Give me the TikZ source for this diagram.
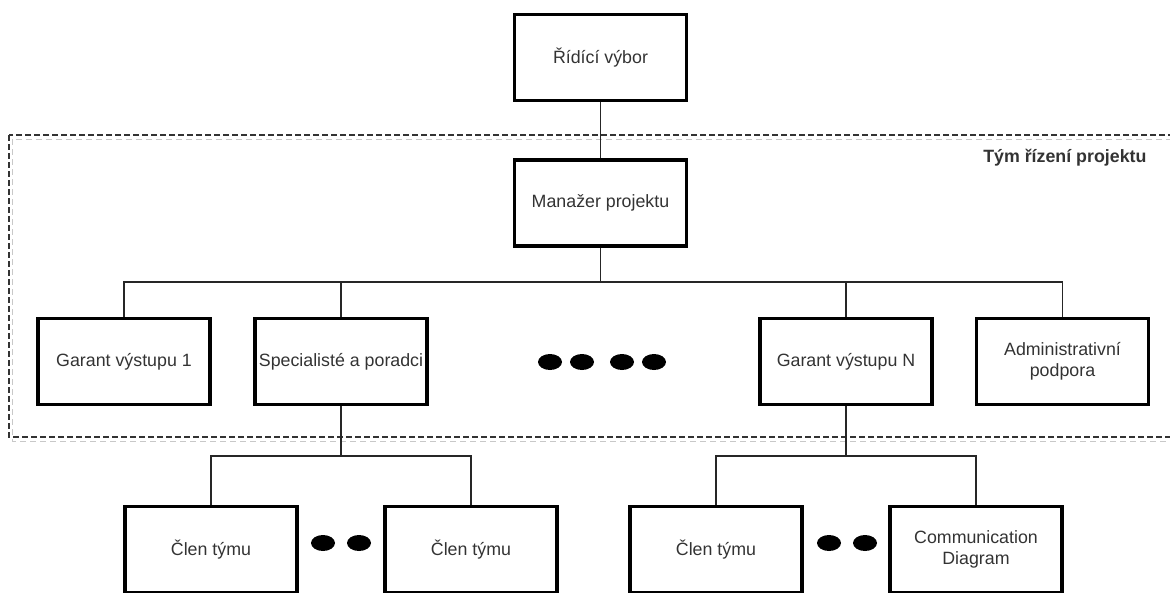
\documentclass[tikz,border=0pt]{standalone}
\usepackage{fontspec}
\setmainfont{Liberation Sans}
\usetikzlibrary{shapes.geometric}
\definecolor{txtgray}{HTML}{333333}
\definecolor{shadowgray}{HTML}{C8C8C8}
\begin{document}
\begin{tikzpicture}[x=1pt,y=-1pt]
		\tikzstyle{box}=[draw,line width=3.5pt,minimum width=172pt,minimum height=86pt,inner sep=2pt,align=center,text=txtgray,font=\fontsize{17.8}{20.5}\selectfont]
		\tikzstyle{edge} = [draw,line width=1.1pt,-,black!85]
		\tikzstyle{dot}=[ellipse,fill=black,minimum width=24pt,minimum height=16pt,inner sep=0pt]
		\useasboundingbox (0,0) rectangle (1170,592);
		
		% team frame
		\draw[shadowgray, line width=1pt, dash pattern=on 6pt off 4pt] (12,139) rectangle (1185,441);
		\draw[black!80, line width=1.2pt, dash pattern=on 6pt off 3pt] (9,135) rectangle (1185,437);
		\node[anchor=east, font=\bfseries\fontsize{17.8}{20}\selectfont, text=txtgray] (teamlabel) at (1150,158) {Tým řízení projektu};
		
		\node[box] (ridici) at (600.5,57.5) {Řídící výbor};
		\node[box] (manazer) at (600.5,203) {Manažer projektu};
		
		\node[box] (garant1) at (124,361.5) {Garant výstupu 1};
		\node[box] (special) at (341,361.5) {Specialisté a poradci};
		\node[box] (garantN) at (846,361.5) {Garant výstupu N};
		\node[box] (admin) at (1062.5,361.5) {Administrativní\\podpora};
		
		\node[box] (clen1) at (211,549.5) {Člen týmu};
		\node[box] (clen2) at (471,549.5) {Člen týmu};
		\node[box] (clen3) at (716,549.5) {Člen týmu};
		\node[box] (comm) at (976,549.5) {Communication\\Diagram};
		
		\node[dot] (d1) at (550,362) {};
		\node[dot] (d2) at (582,362) {};
		\node[dot] (d3) at (622,362) {};
		\node[dot] (d4) at (654,362) {};
		\node[dot] (d5) at (323,543) {};
		\node[dot] (d6) at (359,543) {};
		\node[dot] (d7) at (829,543) {};
		\node[dot] (d8) at (865,543) {};
		
		\coordinate (bus) at (600.5,282);
		\coordinate (busS) at (341,456);
		\coordinate (busN) at (846,456);
		
		\draw[edge] (ridici) -- (manazer);
		\draw[edge] (manazer) -- (bus);
		\draw[edge] (bus) -| (garant1);
		\draw[edge] (bus) -| (special);
		\draw[edge] (bus) -| (garantN);
		\draw[edge] (bus) -| (admin);
		
		\draw[edge] (special) -- (busS);
		\draw[edge] (busS) -| (clen1);
		\draw[edge] (busS) -| (clen2);
		\draw[edge] (garantN) -- (busN);
		\draw[edge] (busN) -| (clen3);
		\draw[edge] (busN) -| (comm);
		\end{tikzpicture}
\end{document}
